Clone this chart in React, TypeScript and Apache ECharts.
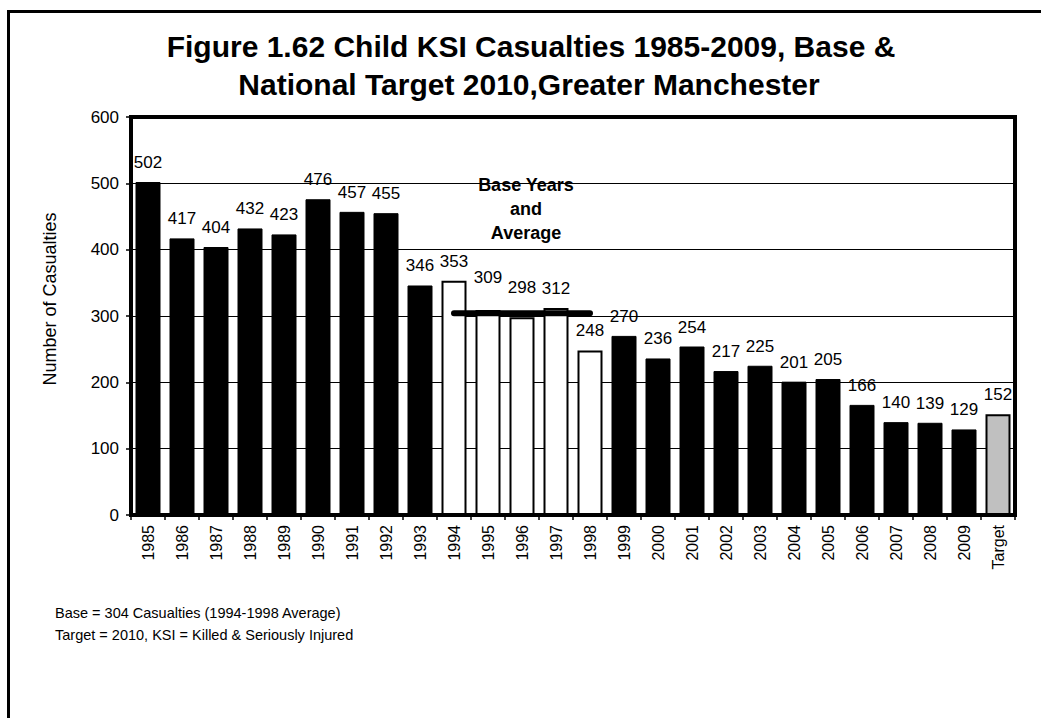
import React, { useEffect, useRef } from "react";
import * as echarts from "echarts";

const categories = ["1985","1986","1987","1988","1989","1990","1991","1992","1993","1994","1995","1996","1997","1998","1999","2000","2001","2002","2003","2004","2005","2006","2007","2008","2009","Target"];
const casualties = [502,417,404,432,423,476,457,455,346,353,309,298,312,248,270,236,254,217,225,201,205,166,140,139,129,152];
const baseYears = ["1994","1995","1996","1997","1998"];
const baseAverage = 304;
const targetCategory = "Target";
const yMin = 0;
const yMax = 600;
const yInterval = 100;

const titleLines = ["Figure 1.62 Child KSI Casualties 1985-2009, Base &", "National Target 2010,Greater Manchester"];
const yAxisTitle = "Number of Casualties";
const baseNote = "Base Years\nand\nAverage";
const footnotes = ["Base = 304 Casualties (1994-1998 Average)", "Target = 2010, KSI = Killed & Seriously Injured"];

const FONT = "'Liberation Sans', Arial, sans-serif";

export default function App() {
  const ref = useRef<HTMLDivElement>(null);
  useEffect(() => {
    if (!ref.current) return;
    const chart = echarts.init(ref.current, null, { renderer: "svg" });
    const extraLabelGap: Record<string, number> = { "1995": 13, "1996": 10 };
    const barData = categories.map((c, i) => {
      const isBase = baseYears.includes(c);
      const isTarget = c === targetCategory;
      return {
        value: casualties[i],
        itemStyle: {
          color: isBase ? "#ffffff" : isTarget ? "#c0c0c0" : "#000000",
          borderColor: "#000000",
          borderWidth: isBase || isTarget ? 2 : 1,
        },
        label: { distance: 11 + (extraLabelGap[c] || 0) },
      };
    });
    const avgData = categories.map((c) => (baseYears.includes(c) ? baseAverage : null));
    chart.setOption({
      animation: false,
      backgroundColor: "#ffffff",
      textStyle: { fontFamily: FONT },
      grid: {
        left: 131,
        right: 26,
        top: 117,
        bottom: 203,
        show: true,
        borderColor: "#000",
        borderWidth: 4,
        backgroundColor: "transparent",
      },
      xAxis: {
        type: "category",
        data: categories,
        axisLine: { show: true, lineStyle: { color: "#000", width: 2 } },
        axisTick: { show: true, alignWithLabel: false, length: 5, lineStyle: { color: "#000", width: 1.5 } },
        axisLabel: { rotate: 90, fontSize: 16, color: "#000", margin: 10, fontFamily: FONT },
        splitLine: { show: false },
      },
      yAxis: {
        type: "value",
        min: yMin,
        max: yMax,
        interval: yInterval,
        axisLine: { show: true, lineStyle: { color: "#000", width: 4 } },
        axisTick: { show: true, length: 5, lineStyle: { color: "#000", width: 1.5 } },
        axisLabel: { fontSize: 17, color: "#000", margin: 12, fontFamily: FONT },
        splitLine: { show: true, lineStyle: { color: "#000", width: 1 } },
      },
      series: [
        {
          type: "bar",
          data: barData,
          barWidth: 25,
          label: { show: true, position: "top", fontSize: 17, color: "#000", fontFamily: FONT },
          z: 2,
        },
        {
          type: "line",
          data: avgData,
          symbol: "none",
          lineStyle: { color: "#000", width: 6, cap: "round" },
          z: 5,
          markPoint: {
            symbol: "circle",
            symbolSize: 0,
            data: [{ coord: ["1996", 461] }],
            label: {
              show: true,
              position: "inside",
              formatter: baseNote,
              fontSize: 18,
              fontWeight: "bold",
              lineHeight: 24,
              color: "#000",
              offset: [4, 0],
              fontFamily: FONT,
            },
          },
        },
      ],
      graphic: [
        {
          type: "rect",
          shape: { x: 8.5, y: 11.5, width: 1200, height: 1000 },
          style: { fill: "none", stroke: "#000", lineWidth: 3 },
          z: -1,
          silent: true,
        },
        {
          type: "text",
          x: 531,
          y: 46,
          style: { text: titleLines[0], font: `bold 30px ${FONT}`, fill: "#000", align: "center", verticalAlign: "middle" },
        },
        {
          type: "text",
          x: 529,
          y: 84,
          style: { text: titleLines[1], font: `bold 30px ${FONT}`, fill: "#000", align: "center", verticalAlign: "middle" },
        },
        {
          type: "text",
          x: 50,
          y: 299,
          rotation: Math.PI / 2,
          style: { text: yAxisTitle, font: `18px ${FONT}`, fill: "#000", align: "center", verticalAlign: "middle" },
        },
        {
          type: "text",
          x: 55,
          y: 613,
          style: { text: footnotes[0], font: `14.5px ${FONT}`, fill: "#000", align: "left", verticalAlign: "middle" },
        },
        {
          type: "text",
          x: 55,
          y: 635,
          style: { text: footnotes[1], font: `14.5px ${FONT}`, fill: "#000", align: "left", verticalAlign: "middle" },
        },
      ],
    });
    return () => chart.dispose();
  }, []);
  return (
    <div
      ref={ref}
      style={{ position: "absolute", left: 0, top: 0, width: 1041, height: 718, background: "#fff" }}
    />
  );
}
